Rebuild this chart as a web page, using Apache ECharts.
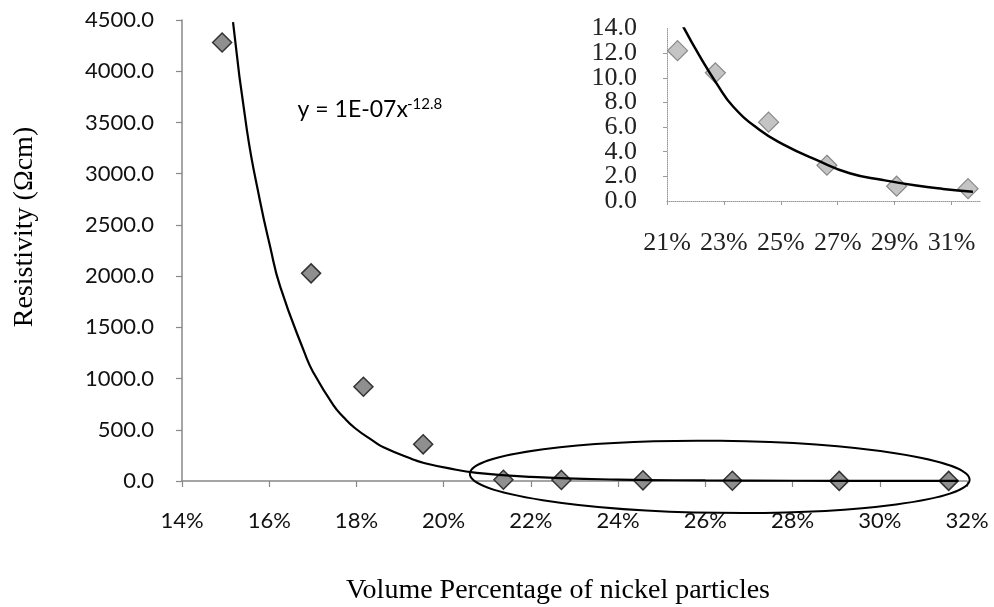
<!DOCTYPE html>
<html><head><meta charset="utf-8">
<script src="https://cdn.jsdelivr.net/npm/echarts@6/dist/echarts.min.js"></script>
<style>html,body{margin:0;padding:0;background:#fff}#c{width:994px;height:607px}</style>
</head><body><div id="c"></div>
<script>
// ---- data ----
const mainX = [14.92, 16.96, 18.16, 19.53, 21.37, 22.7, 24.57, 26.62, 29.07, 31.58];
const mainY = [4280, 2027, 920, 358, 12.2, 10.4, 6.4, 2.9, 1.2, 1.0];
const trendX = [15.17, 15.49, 15.79, 16.02, 16.25, 16.82, 17.01, 17.47, 17.70, 17.97, 18.39, 18.62, 19.31, 19.53, 20.1, 20.76, 22, 24, 26, 28, 30, 31.8];
const trendY = [4480, 3420, 2731, 2290, 1900, 1240, 1060, 740, 625, 515, 390, 330, 208, 178, 125, 80, 40, 14, 6, 2.5, 1, 0.5];
const insetX = [21.37, 22.7, 24.57, 26.62, 29.07, 31.58];
const insetY = [12.2, 10.4, 6.4, 2.9, 1.2, 1.0];
const insetTrendX = [21.57, 22.16, 22.74, 23.33, 24.26, 25.08, 26.25, 27.42, 28.59, 29.76, 30.7, 31.75];
const insetTrendY = [14.15, 11.71, 9.55, 7.65, 5.76, 4.6, 3.33, 2.25, 1.70, 1.25, 0.98, 0.75];
const mainXRange = [14, 32, 2];
const mainYRange = [0, 4500, 500];
const insetXRange = [21, 32, 2];
const insetYRange = [0, 14, 2];
const yTitle = 'Resistivity (\u03A9cm)';
const xTitle = 'Volume Percentage of nickel particles';
const eqMain = 'y = 1E-07x';
const eqSup = '-12.8';
// ellipse annotation in data units: center x, center y, left x, right x, top y, bottom y
const ellipseData = [26.33, 39, 20.6, 32.06, 392, -311];

const sans = 'Lato';
const serif = 'Liberation Serif';
const zip = (a, b) => a.map((v, i) => [v, b[i]]);
const insetLabelStyle = {fontFamily: serif, fontSize: 26, color: '#222', margin: 30};

const chart = echarts.init(document.getElementById('c'));
const option = {
  backgroundColor: '#fff',
  animation: false,
  grid: [
    {left: 182, right: 27, top: 20, bottom: 126, outerBoundsMode: 'none', containLabel: false},
    {left: 667, right: 14, top: 28.5, bottom: 406, outerBoundsMode: 'none', containLabel: false}
  ],
  xAxis: [
    {type: 'value', gridIndex: 0, min: mainXRange[0], max: mainXRange[1], interval: mainXRange[2],
     splitLine: {show: false},
     axisLine: {show: true, onZero: false, lineStyle: {color: '#888', width: 1.5}},
     axisTick: {show: true, length: 6, lineStyle: {color: '#888', width: 1.2}},
     axisLabel: {formatter: v => v + '%', fontFamily: sans, fontSize: 22, color: '#111', margin: 29, showMinLabel: true, showMaxLabel: true}},
    {type: 'value', gridIndex: 1, min: insetXRange[0], max: insetXRange[1], interval: insetXRange[2],
     splitLine: {show: false},
     axisLine: {show: true, onZero: false, lineStyle: {color: '#999', width: 1, type: 'dotted'}},
     axisTick: {show: true, length: 4, lineStyle: {color: '#999', width: 1}},
     axisLabel: {formatter: v => v + '%', fontFamily: serif, fontSize: 26, color: '#222', margin: 29, showMinLabel: true, showMaxLabel: false}}
  ],
  yAxis: [
    {type: 'value', gridIndex: 0, min: mainYRange[0], max: mainYRange[1], interval: mainYRange[2],
     splitLine: {show: false},
     axisLine: {show: true, lineStyle: {color: '#888', width: 1.5}},
     axisTick: {show: true, length: 6, lineStyle: {color: '#888', width: 1.2}},
     axisLabel: {formatter: v => v.toFixed(1), fontFamily: sans, fontSize: 22, color: '#111', margin: 28, showMinLabel: true, showMaxLabel: true}},
    {type: 'value', gridIndex: 1, min: insetYRange[0], max: insetYRange[1], interval: insetYRange[2],
     splitLine: {show: false},
     axisLine: {show: true, lineStyle: {color: '#999', width: 1, type: 'dotted'}},
     axisTick: {show: true, length: 4, lineStyle: {color: '#999', width: 1}},
     axisLabel: Object.assign({formatter: v => v.toFixed(1), showMinLabel: false, showMaxLabel: false}, insetLabelStyle)},
    // same scale, only carries the end labels (0.0 and 14.0) of the inset
    {type: 'value', gridIndex: 1, position: 'left', min: insetYRange[0], max: insetYRange[1], interval: insetYRange[1] - insetYRange[0],
     splitLine: {show: false}, axisLine: {show: false}, axisTick: {show: false},
     axisLabel: Object.assign({formatter: v => v.toFixed(1), showMinLabel: true, showMaxLabel: true}, insetLabelStyle)}
  ],
  series: [
    {type: 'scatter', xAxisIndex: 0, yAxisIndex: 0, data: zip(mainX, mainY), symbol: 'diamond', symbolSize: 19,
     itemStyle: {color: '#8f8f8f', borderColor: '#333', borderWidth: 1.5, opacity: 1}, z: 3},
    {type: 'line', xAxisIndex: 0, yAxisIndex: 0, data: zip(trendX, trendY), showSymbol: false, smooth: 0.5,
     lineStyle: {color: '#000', width: 2.2}, z: 4, silent: true},
    {type: 'scatter', xAxisIndex: 1, yAxisIndex: 1, data: zip(insetX, insetY), symbol: 'diamond', symbolSize: 20,
     itemStyle: {color: '#c4c4c4', borderColor: '#888', borderWidth: 1.2, opacity: 1}, z: 3},
    {type: 'line', xAxisIndex: 1, yAxisIndex: 1, data: zip(insetTrendX, insetTrendY), showSymbol: false, smooth: 0.5,
     lineStyle: {color: '#000', width: 2.5}, z: 4, silent: true}
  ]
};
chart.setOption(option);

const f = {xAxisIndex: 0, yAxisIndex: 0};
const pl = chart.convertToPixel(f, [ellipseData[2], ellipseData[1]]);
const pr = chart.convertToPixel(f, [ellipseData[3], ellipseData[1]]);
const pt = chart.convertToPixel(f, [ellipseData[0], ellipseData[4]]);
const pb = chart.convertToPixel(f, [ellipseData[0], ellipseData[5]]);
const cx = (pl[0] + pr[0]) / 2, cy = (pt[1] + pb[1]) / 2;
const rx = (pr[0] - pl[0]) / 2, ry = (pb[1] - pt[1]) / 2;
const eqPos = chart.convertToPixel(f, [16.65, 3700]);

chart.setOption({
  graphic: [
    {type: 'ellipse', shape: {cx: cx, cy: cy, rx: rx, ry: ry}, rotation: -0.012, originX: cx, originY: cy,
     style: {fill: 'none', stroke: '#000', lineWidth: 2}, z: 10, silent: true},
    {type: 'text', x: 24.5, y: 227, rotation: Math.PI / 2,
     style: {text: yTitle, font: '28px "' + serif + '"', fill: '#000', align: 'center', verticalAlign: 'middle'}},
    {type: 'text', x: 558, y: 591,
     style: {text: xTitle, font: '28px "' + serif + '"', fill: '#000', align: 'center', verticalAlign: 'middle'}},
    {type: 'text', x: eqPos[0], y: 110,
     style: {text: eqMain, font: '23px "' + sans + '"', fill: '#000', align: 'left', verticalAlign: 'middle'}},
    {type: 'text', x: 407, y: 104,
     style: {text: eqSup, font: '15px "' + sans + '"', fill: '#000', align: 'left', verticalAlign: 'middle'}}
  ]
});
</script></body></html>
